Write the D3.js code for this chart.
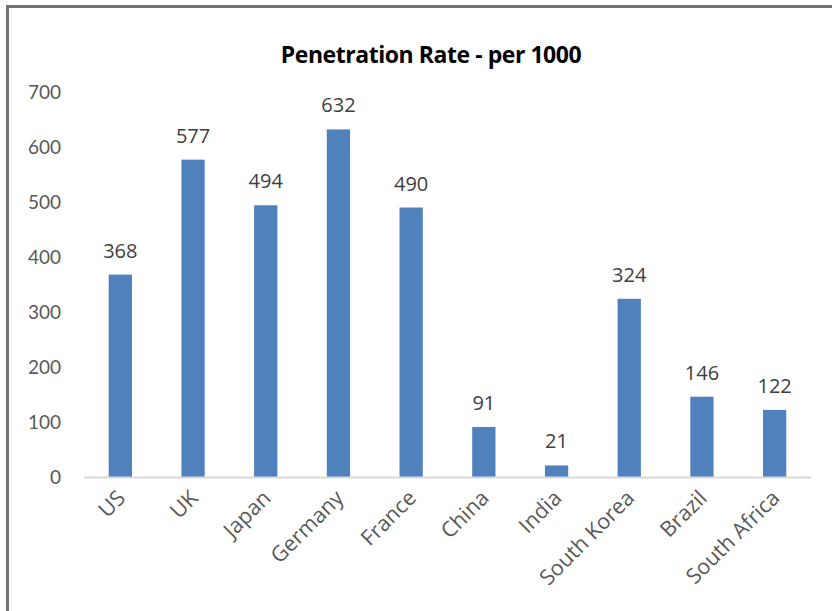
<!DOCTYPE html>
<html>
<head>
<meta charset="utf-8">
<script src="https://cdn.jsdelivr.net/npm/d3@7"></script>
<style>
  html, body { margin: 0; padding: 0; background: #fff; }
  svg { display: block; }
</style>
</head>
<body>
<svg id="chart" width="832" height="611"></svg>
<script>
// Penetration rate per 1000 people, by country
const categories = ["US", "UK", "Japan", "Germany", "France", "China", "India", "South Korea", "Brazil", "South Africa"];
const values = [368, 577, 494, 632, 490, 91, 21, 324, 146, 122];
const yTicks = [0, 100, 200, 300, 400, 500, 600, 700];
const title = "Penetration Rate - per 1000";

const svg = d3.select("#chart");
const W = 832, H = 611;
const plot = { left: 84, right: 811, top: 92, bottom: 477 };
const tickFont = "Lato, 'Open Sans', sans-serif";
const labelFont = "'Open Sans', 'Noto Sans', sans-serif";

// outer frame (only top and left edges fall inside the canvas)
svg.append("path")
  .attr("d", `M7.5,${H} L7.5,6.5 L${W},6.5`)
  .attr("fill", "none")
  .attr("stroke", "#747474")
  .attr("stroke-width", 3);

svg.append("text")
  .attr("x", 431).attr("y", 63)
  .attr("text-anchor", "middle")
  .attr("font-family", labelFont)
  .attr("font-weight", "bold")
  .attr("font-size", 23)
  .attr("letter-spacing", -0.45)
  .attr("fill", "#000")
  .text(title);

const x = d3.scaleBand().domain(categories).range([plot.left, plot.right]).paddingInner(0.68).paddingOuter(0.34);
const y = d3.scaleLinear().domain([0, 700]).range([plot.bottom, plot.top]);

// y-axis labels
const yAxis = svg.append("g")
  .attr("transform", `translate(${plot.left - 23},0)`)
  .call(d3.axisLeft(y).tickValues(yTicks).tickSize(0).tickPadding(0));
yAxis.select(".domain").remove();
yAxis.selectAll("text")
  .attr("font-family", tickFont)
  .attr("font-size", 19)
  .attr("fill", "#595959");

// bars
svg.append("g").selectAll("rect")
  .data(values)
  .join("rect")
  .attr("x", (d, i) => x(categories[i]))
  .attr("width", x.bandwidth())
  .attr("y", d => y(d))
  .attr("height", d => y(0) - y(d))
  .attr("fill", "#4f81bd");

// baseline
svg.append("line")
  .attr("x1", plot.left).attr("x2", plot.right)
  .attr("y1", plot.bottom + 0.5).attr("y2", plot.bottom + 0.5)
  .attr("stroke", "#d9d9d9")
  .attr("stroke-width", 2);

// value labels
svg.append("g").selectAll("text")
  .data(values)
  .join("text")
  .attr("x", (d, i) => x(categories[i]) + x.bandwidth() / 2)
  .attr("y", d => y(d) - 17)
  .attr("text-anchor", "middle")
  .attr("font-family", labelFont)
  .attr("font-size", 20)
  .attr("fill", "#404040")
  .text(d => d);

// category labels, rotated
svg.append("g").selectAll("text")
  .data(categories)
  .join("text")
  .attr("transform", d => `translate(${x(d) + x.bandwidth() / 2 + 1},${plot.bottom + 17}) rotate(-45)`)
  .attr("text-anchor", "end")
  .attr("dy", "0.35em")
  .attr("font-family", labelFont)
  .attr("font-size", 21.5)
  .attr("fill", "#595959")
  .text(d => d);
</script>
</body>
</html>
